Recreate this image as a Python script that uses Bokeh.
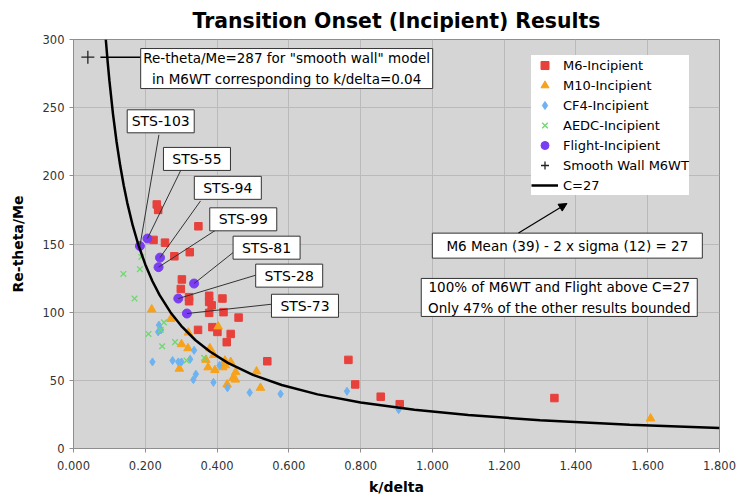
from bokeh.plotting import figure
from bokeh.models import (Range1d, FixedTicker, NumeralTickFormatter, Legend,
                          LegendItem, Arrow, NormalHead)
from bokeh.core.properties import value
from bokeh.embed import file_html
from bokeh.resources import INLINE

FONT = "DejaVu Sans"

# ---------------- data ----------------
M6_X = [0.232, 0.236, 0.348, 0.223, 0.255, 0.324, 0.281, 0.302, 0.299, 0.322,
        0.322, 0.378, 0.378, 0.385, 0.415, 0.378, 0.418, 0.460, 0.347, 0.387,
        0.401, 0.438, 0.427, 0.540, 0.766, 0.785, 0.856, 0.909, 1.340]
M6_Y = [179, 175, 163, 153, 151, 144, 141, 124, 117, 111,
        108, 112, 107.5, 105, 110, 99.5, 100, 96, 87, 89,
        85.5, 84, 78, 64, 65, 47, 38, 32.5, 37]

M10_X = [0.218, 0.271, 0.403, 0.320, 0.301, 0.319, 0.380, 0.391, 0.369, 0.422,
         0.438, 0.375, 0.416, 0.423, 0.394, 0.295, 0.452, 0.444, 0.451, 0.510,
         0.428, 0.521, 1.608]
M10_Y = [102, 95, 89.5, 85, 76.5, 73.5, 73.5, 68.5, 65, 64.5,
         63.5, 59.5, 59.5, 61, 57.5, 58.5, 56, 51.5, 50.5, 56.5,
         47, 44.5, 22]

CF4_X = [0.238, 0.236, 0.244, 0.220, 0.276, 0.292, 0.301, 0.325, 0.336, 0.341,
         0.334, 0.390, 0.407, 0.429, 0.491, 0.577, 0.762, 0.906]
CF4_Y = [90.5, 85.5, 87, 63.5, 64.5, 63.5, 63.5, 65.5, 72, 54.5,
         50.5, 48.5, 61, 44.5, 41, 40, 42, 28.5]

AEDC_X = [0.189, 0.185, 0.139, 0.170, 0.252, 0.243, 0.209, 0.283, 0.247, 0.364, 0.315]
AEDC_Y = [140.5, 131.5, 128, 110, 92.5, 87, 84, 78, 75, 66.5, 64.5]

FLIGHT_NAMES = ["STS-103", "STS-55", "STS-94", "STS-99", "STS-81", "STS-28", "STS-73"]
FLIGHT_X = [0.185, 0.206, 0.241, 0.237, 0.336, 0.292, 0.316]
FLIGHT_Y = [148.5, 154, 140, 133, 121, 110, 99]

SMOOTH_X = [0.04]
SMOOTH_Y = [287]

# C=27 correlation curve
CURVE_X = [0.090, 0.095, 0.100, 0.110, 0.120, 0.130, 0.140, 0.150, 0.165, 0.180,
           0.200, 0.220, 0.240, 0.270, 0.300, 0.340, 0.380, 0.430, 0.500, 0.580,
           0.680, 0.800, 0.950, 1.100, 1.300, 1.550, 1.800]
CURVE_Y = [300.0, 284.2, 270.0, 245.5, 225.0, 207.7, 192.9, 180.0, 163.6, 150.0,
           135.0, 122.7, 112.5, 100.0, 90.0, 79.4, 71.1, 62.8, 54.0, 46.6,
           39.7, 33.8, 28.4, 24.5, 20.8, 17.4, 15.0]

X_TICKS = [0.0, 0.2, 0.4, 0.6, 0.8, 1.0, 1.2, 1.4, 1.6, 1.8]
Y_TICKS = [0, 50, 100, 150, 200, 250, 300]

# callout label positions (box centres) and leader-line ends, data units
LABEL_X = [0.243, 0.344, 0.430, 0.473, 0.538, 0.601, 0.645]
LABEL_Y = [240.0, 212.4, 191.2, 168.1, 147.3, 126.8, 104.7]
LEAD_X = [0.238, 0.299, 0.354, 0.396, 0.447, 0.5075, 0.551]
LEAD_Y = [230.1, 204.1, 181.6, 160.1, 144.2, 127.1, 105.8]

NOTE_TEXT = ['Re-theta/Me=287 for "smooth wall" model\nin M6WT corresponding to k/delta=0.04',
             "M6 Mean (39) - 2 x sigma (12) = 27",
             "100% of M6WT and Flight above C=27\nOnly 47% of the other results bounded"]
NOTE_X = [0.594, 1.376, 1.3535]
NOTE_Y = [278.7, 148.8, 110.8]
NOTE_W = [292, 270, 276]
NOTE_H = [40, 25, 38]

# ---------------- figure ----------------
p = figure(width=736, height=498, output_backend="svg", toolbar_location=None,
           x_range=Range1d(0, 1.8), y_range=Range1d(0, 300),
           title="Transition Onset (Incipient) Results",
           min_border_left=73, min_border_right=17, min_border_top=39,
           min_border_bottom=50)

p.background_fill_color = "#D5D5D5"
p.border_fill_color = "white"
p.outline_line_color = "#8E8E8E"
p.outline_line_width = 1

p.title.text_font = FONT
p.title.text_font_size = "20.4px"
p.title.text_font_style = "bold"
p.title.align = "center"
p.title.text_color = "black"
p.title.standoff = 13

p.xaxis.ticker = FixedTicker(ticks=X_TICKS)
p.yaxis.ticker = FixedTicker(ticks=Y_TICKS)
p.xaxis.formatter = NumeralTickFormatter(format="0.000")
p.xaxis.axis_label = "k/delta"
p.yaxis.axis_label = "Re-theta/Me"
for ax in (p.xaxis, p.yaxis):
    ax.axis_label_text_font = FONT
    ax.axis_label_text_font_size = "14px"
    ax.axis_label_text_font_style = "bold"
    ax.axis_label_text_color = "black"
    ax.major_label_text_font = FONT
    ax.major_label_text_font_size = "11.5px"
    ax.major_label_text_color = "#333333"
    ax.axis_line_color = "#8E8E8E"
    ax.major_tick_line_color = "#8E8E8E"
    ax.major_tick_in = 0
    ax.major_tick_out = 4
    ax.minor_tick_line_color = None
p.xaxis.major_label_standoff = 8
p.xaxis.axis_label_standoff = 6
p.yaxis.major_label_standoff = 5
p.yaxis.axis_label_standoff = 14

p.xgrid.grid_line_color = "#BABABA"
p.ygrid.grid_line_color = "#BABABA"
p.xgrid.grid_line_width = 1
p.ygrid.grid_line_width = 1

# ---------------- series ----------------
r_m6 = p.scatter(M6_X, M6_Y, marker="square", size=7.5, fill_color="#E8403B",
                 line_color="#E8403B")
r_m10 = p.scatter(M10_X, M10_Y, marker="triangle", size=8.5, fill_color="#F7A21B",
                  line_color="#F7A21B")
r_cf4 = p.scatter(CF4_X, CF4_Y, marker="diamond", size=8, fill_color="#6DB3F2",
                  line_color="#6DB3F2")
r_aedc = p.scatter(AEDC_X, AEDC_Y, marker="x", size=8, line_color="#6ED86E",
                   line_width=1.3)
r_fl = p.scatter(FLIGHT_X, FLIGHT_Y, marker="circle", size=9, fill_color="#7B3DF2",
                 line_color="#7B3DF2")
r_sm = p.scatter(SMOOTH_X, SMOOTH_Y, marker="cross", size=13, line_color="#222222",
                 line_width=1.3)
r_c = p.line(CURVE_X, CURVE_Y, line_color="black", line_width=2.5)

# ---------------- callouts ----------------
p.segment(x0=FLIGHT_X, y0=FLIGHT_Y, x1=LEAD_X, y1=LEAD_Y, line_color="#333333",
          line_width=1)
p.rect(x=LABEL_X, y=LABEL_Y, width=67, height=23, width_units="screen",
       height_units="screen", fill_color="white", line_color="#333333", line_width=1)
p.text(x=LABEL_X, y=LABEL_Y, text=FLIGHT_NAMES, text_align="center",
       text_baseline="middle", text_font=value(FONT), text_font_size="14px",
       text_color="black")

# smooth-wall leader
p.segment(x0=[SMOOTH_X[0] + 0.035], y0=[SMOOTH_Y[0]], x1=[0.187], y1=[SMOOTH_Y[0]],
          line_color="black", line_width=1.5)

p.rect(x=NOTE_X, y=NOTE_Y, width=NOTE_W, height=NOTE_H, width_units="screen",
       height_units="screen", fill_color="white", line_color="#333333", line_width=1)
p.text(x=NOTE_X, y=NOTE_Y, text=NOTE_TEXT, text_align="center",
       text_baseline="middle", text_font=value(FONT), text_font_size="13.5px",
       text_line_height=1.35, text_color="black")

p.add_layout(Arrow(end=NormalHead(size=8, fill_color="black", line_color="black"),
                   x_start=1.240, y_start=158.0, x_end=1.375, y_end=179.7,
                   line_color="black", line_width=1.2))

# ---------------- legend ----------------
legend = Legend(items=[
    LegendItem(label="M6-Incipient", renderers=[r_m6]),
    LegendItem(label="M10-Incipient", renderers=[r_m10]),
    LegendItem(label="CF4-Incipient", renderers=[r_cf4]),
    LegendItem(label="AEDC-Incipient", renderers=[r_aedc]),
    LegendItem(label="Flight-Incipient", renderers=[r_fl]),
    LegendItem(label="Smooth Wall M6WT", renderers=[r_sm]),
    LegendItem(label="C=27", renderers=[r_c]),
], location=(458, 253))
legend.label_text_font = FONT
legend.label_text_font_size = "13px"
legend.label_text_color = "black"
legend.glyph_width = 27
legend.glyph_height = 20
legend.label_height = 20
legend.label_standoff = 5
legend.spacing = 0
legend.padding = 3
legend.margin = 0
legend.background_fill_color = "white"
legend.background_fill_alpha = 1
legend.border_line_color = None
p.add_layout(legend)

open("out.html", "w").write(file_html(p, INLINE))
